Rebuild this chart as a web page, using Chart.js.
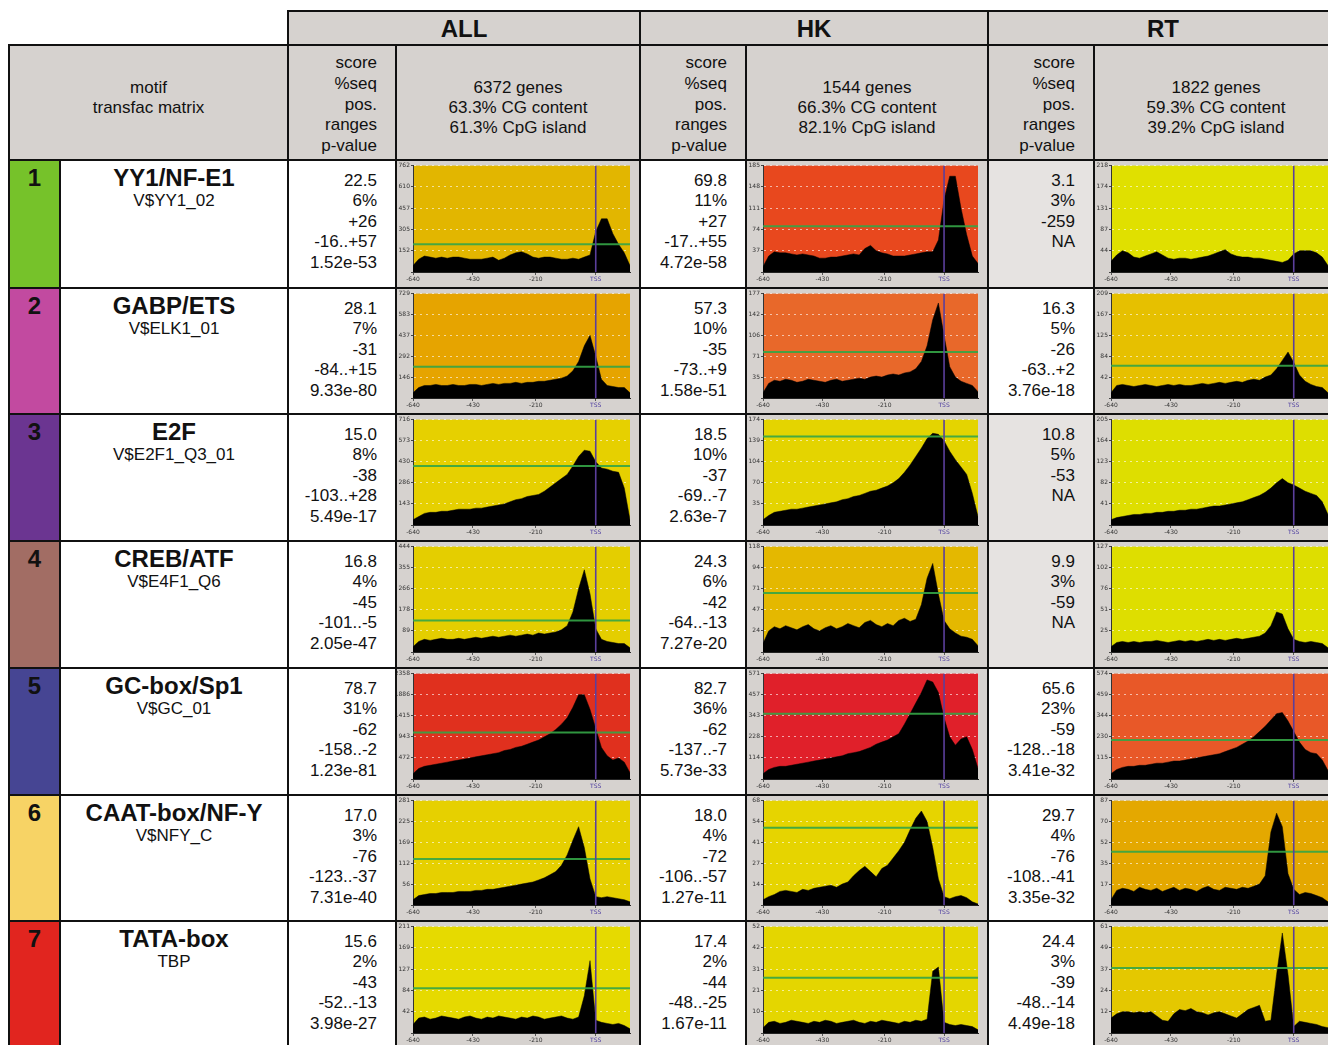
<!DOCTYPE html>
<html>
<head>
<meta charset="utf-8">
<script src="https://cdn.jsdelivr.net/npm/chart.js@4.4.1/dist/chart.umd.min.js"></script>
<style>
  html, body { margin: 0; padding: 0; background: #fff; overflow: hidden; }
  body { width: 1328px; height: 1045px; position: relative; font-family: "Liberation Sans", Arial, sans-serif; color: #111; }
  .cell { position: absolute; box-sizing: border-box; border: 2px solid #111; overflow: hidden; }
  .grey { background: #d6d2cf; }
  .white { background: #fff; }
  .na { background: #e6e3e1; }
  .group { display: flex; align-items: center; justify-content: center; font-weight: bold; font-size: 24px; padding-top: 2px; }
  .stats { text-align: right; font-size: 17px; line-height: 20.4px; padding: 10px 18px 0 0; }
  .statsHead { text-align: right; font-size: 17px; line-height: 20.8px; padding: 7px 18px 0 0; }
  .center3 { text-align: center; font-size: 17px; line-height: 20px; padding-top: 32px; }
  .num { text-align: center; font-weight: bold; font-size: 24px; line-height: 26px; padding-top: 4px; }
  .motif { text-align: center; padding-top: 4px; }
  .motif b { display: block; font-size: 24px; line-height: 26px; }
  .motif span { display: block; font-size: 17px; line-height: 20px; }
  canvas { position: absolute; left: 0; top: 0; }
</style>
</head>
<body>
<script>
// x positions (bp relative to TSS) of every profile sample
const positions = [-640,-620,-600,-580,-560,-540,-520,-500,-480,-460,-440,-420,-400,-380,-360,-340,-320,-300,-280,-260,
                   -240,-220,-200,-180,-160,-140,-120,-100,-80,-60,-40,-20,0,20,40,60,80,100,120];
const xTicks = [-640, -430, -210, 0];

const groupNames = ['ALL', 'HK', 'RT'];
const geneCounts = ['6372', '1544', '1822'];
const cgContent = ['63.3%', '66.3%', '59.3%'];
const cpgIsland = ['61.3%', '82.1%', '39.2%'];

const motifNames = ['YY1/NF-E1', 'GABP/ETS', 'E2F', 'CREB/ATF', 'GC-box/Sp1', 'CAAT-box/NF-Y', 'TATA-box'];
const matrixIds = ['V$YY1_02', 'V$ELK1_01', 'V$E2F1_Q3_01', 'V$E4F1_Q6', 'V$GC_01', 'V$NFY_C', 'TBP'];

// stats per group
const scoreALL = ['22.5', '28.1', '15.0', '16.8', '78.7', '17.0', '15.6'];
const seqALL = ['6%', '7%', '8%', '4%', '31%', '3%', '2%'];
const posALL = ['+26', '-31', '-38', '-45', '-62', '-76', '-43'];
const rangeALL = ['-16..+57', '-84..+15', '-103..+28', '-101..-5', '-158..-2', '-123..-37', '-52..-13'];
const pvalALL = ['1.52e-53', '9.33e-80', '5.49e-17', '2.05e-47', '1.23e-81', '7.31e-40', '3.98e-27'];

const scoreHK = ['69.8', '57.3', '18.5', '24.3', '82.7', '18.0', '17.4'];
const seqHK = ['11%', '10%', '10%', '6%', '36%', '4%', '2%'];
const posHK = ['+27', '-35', '-37', '-42', '-62', '-72', '-44'];
const rangeHK = ['-17..+55', '-73..+9', '-69..-7', '-64..-13', '-137..-7', '-106..-57', '-48..-25'];
const pvalHK = ['4.72e-58', '1.58e-51', '2.63e-7', '7.27e-20', '5.73e-33', '1.27e-11', '1.67e-11'];

const scoreRT = ['3.1', '16.3', '10.8', '9.9', '65.6', '29.7', '24.4'];
const seqRT = ['3%', '5%', '5%', '3%', '23%', '4%', '3%'];
const posRT = ['-259', '-26', '-53', '-59', '-59', '-76', '-39'];
const rangeRT = [null, '-63..+2', null, null, '-128..-18', '-108..-41', '-48..-14'];
const pvalRT = ['NA', '3.76e-18', 'NA', 'NA', '3.41e-32', '3.35e-32', '4.49e-18'];

// profiles, in % of each plot's y range
const curvesALL = [
  [6,12,15,14,13,14,13,14,14,13, 12,12,12,13,14,11,13,16,18,19, 17,14,13,14,14,13,12,12,13,12, 14,16,38,50,50,36,26,18,6],
  [5,10,12,12,13,12,12,13,12,12, 13,13,12,13,14,13,14,14,15,14, 15,15,16,16,17,18,19,21,26,35, 50,60,40,18,12,11,10,10,5],
  [5,8,11,12,12,13,13,14,15,15, 15,16,16,17,18,19,20,22,24,25, 27,28,29,32,36,40,44,48,56,65, 71,70,60,54,53,51,50,35,5],
  [5,10,12,11,12,13,12,12,13,12, 13,14,13,14,15,14,15,16,15,16, 17,16,18,17,18,19,21,25,38,60, 78,55,22,12,10,9,8,8,4],
  [5,10,12,13,14,15,16,17,18,19, 20,21,22,23,24,25,27,28,30,31, 33,35,37,40,43,47,52,58,68,80, 80,66,48,30,22,18,20,16,6],
  [5,9,10,11,11,12,12,12,13,13, 13,14,14,15,15,16,17,18,19,20, 21,22,24,26,29,32,38,48,62,75, 55,25,8,7,8,7,6,5,3],
  [8,14,15,13,14,16,15,14,13,15, 16,14,13,15,14,16,15,14,13,15, 14,16,15,13,14,15,16,14,13,15, 35,68,12,10,9,8,9,7,4]
];
const curvesHK = [
  [5,15,19,18,18,17,16,17,16,15, 13,13,14,14,15,16,17,16,22,25, 20,18,17,15,15,15,16,17,18,19, 19,30,68,90,90,60,35,15,8],
  [5,14,17,16,18,17,15,16,18,17, 16,15,17,18,16,17,18,19,18,20, 21,20,22,23,22,24,25,28,35,50, 75,91,60,30,20,16,14,12,6],
  [5,9,12,13,14,15,15,16,17,18, 19,20,21,22,24,25,27,28,30,32, 33,35,37,40,44,50,57,65,73,82, 87,86,80,70,62,55,48,30,8],
  [8,20,24,22,25,23,21,24,26,22, 20,23,25,22,24,27,25,23,28,30, 26,24,27,25,30,32,29,31,45,70, 84,55,30,22,18,15,14,12,6],
  [5,9,11,12,12,13,14,15,16,17, 18,19,20,21,22,24,25,26,28,30, 33,35,37,40,43,52,62,72,82,94, 92,82,58,40,32,38,40,28,10],
  [5,8,10,13,14,13,12,15,14,16, 17,18,19,17,20,22,28,33,37,32, 27,35,38,45,52,60,72,83,90,80, 55,25,8,6,8,9,7,3,1],
  [5,10,11,9,10,12,11,10,9,11, 10,12,11,9,10,11,12,10,9,11, 10,12,11,10,9,11,10,12,11,13, 58,62,10,8,7,8,7,6,3]
];
const curvesRT = [
  [10,16,20,18,14,13,15,17,19,16, 13,12,13,13,12,13,14,15,17,19, 21,17,15,14,14,13,13,12,11,10, 9,11,17,20,20,20,18,14,6],
  [5,12,13,12,11,12,13,12,11,12, 13,12,13,12,12,13,14,13,14,15, 14,15,16,15,17,18,17,20,22,28, 36,44,34,22,16,13,11,10,5],
  [5,7,8,9,10,10,11,11,12,12, 13,13,14,14,15,15,16,17,18,18, 19,20,21,22,24,26,28,31,35,40, 44,40,38,35,32,30,28,22,10],
  [5,9,10,9,10,9,10,10,11,10, 9,10,11,10,11,10,11,12,11,12, 11,12,13,12,13,14,15,18,25,38, 36,22,12,10,9,10,9,8,4],
  [5,9,11,12,12,13,13,14,15,15, 16,17,17,18,19,20,21,22,23,24, 26,28,30,33,36,40,45,50,56,62, 63,55,45,35,28,25,24,18,8],
  [5,14,16,15,13,17,15,14,16,13, 15,17,14,16,15,13,16,18,15,14, 17,16,15,17,16,18,20,28,70,88, 75,30,15,10,12,11,9,7,3],
  [14,18,20,20,19,20,19,20,16,12, 11,18,22,21,23,20,19,17,19,20, 18,16,14,18,22,24,26,11,12,55, 94,55,6,11,10,9,8,6,5]
];

// top tick value of each plot and the threshold (green) level in %
const yMaxALL = [762, 729, 716, 444, 2358, 281, 211];
const yMaxHK = [185, 177, 174, 118, 571, 68, 52];
const yMaxRT = [218, 209, 205, 127, 574, 87, 61];
const threshALL = [26, 30, 56, 30, 44, 44, 42];
const threshHK = [43, 44, 84, 56, 62, 74, 52];
const threshRT = [null, 31, null, null, 37, 51, 61];

// styles
const rowColors = ['#76c22a', '#c24aa0', '#6b3591', '#a26d64', '#464593', '#f7d365', '#e1251f'];
const bgALL = ['#e2b600', '#e6a400', '#e6d000', '#e4ce00', '#e0301e', '#e6d000', '#e6da00'];
const bgHK = ['#e8481e', '#e8682a', '#e4d400', '#e4b800', '#e0202a', '#e6d400', '#e4d600'];
const bgRT = ['#e0e000', '#e6c000', '#dede00', '#dede00', '#e85828', '#e4a800', '#e4c800'];

const xs = [9, 60, 288, 396, 640, 746, 988, 1094, 1338];
const rowYs = [160, 288, 414, 541, 668, 795, 921, 1049];

const groups = [
  { curves: curvesALL, yMax: yMaxALL, thresh: threshALL, bg: bgALL, score: scoreALL, seq: seqALL, pos: posALL, range: rangeALL, pval: pvalALL },
  { curves: curvesHK, yMax: yMaxHK, thresh: threshHK, bg: bgHK, score: scoreHK, seq: seqHK, pos: posHK, range: rangeHK, pval: pvalHK },
  { curves: curvesRT, yMax: yMaxRT, thresh: threshRT, bg: bgRT, score: scoreRT, seq: seqRT, pos: posRT, range: rangeRT, pval: pvalRT }
];

const addCell = (x0, y0, x1, y1, cls, html) => {
  const d = document.createElement('div');
  d.className = 'cell ' + cls;
  d.style.left = (x0 - 1) + 'px';
  d.style.top = (y0 - 1) + 'px';
  d.style.width = (x1 - x0 + 2) + 'px';
  d.style.height = (y1 - y0 + 2) + 'px';
  if (html) d.innerHTML = html;
  document.body.appendChild(d);
  return d;
};

const plotBg = {
  id: 'plotBg',
  beforeDraw(chart, args, opts) {
    const { ctx, chartArea: a } = chart;
    ctx.save();
    ctx.fillStyle = opts.color;
    ctx.fillRect(a.left, a.top, a.right - a.left, a.bottom - a.top);
    ctx.restore();
  }
};

const drawProfile = (cell, w, h, values, yMax, level, bg) => {
  const canvas = document.createElement('canvas');
  canvas.width = w;
  canvas.height = h;
  cell.appendChild(canvas);

  const datasets = [{
    data: positions.map((x, i) => ({ x: x, y: values[i] })),
    backgroundColor: '#000', borderColor: '#000', borderWidth: 0.5,
    fill: 'origin', pointRadius: 0, tension: 0, order: 3
  }];
  if (level !== null) {
    datasets.push({
      data: [{ x: -640, y: level }, { x: 120, y: level }],
      borderColor: 'rgba(52,165,70,0.9)', borderWidth: 2, pointRadius: 0, fill: false, order: 2
    });
  }
  datasets.push({
    data: [{ x: 0, y: 0 }, { x: 0, y: 100 }],
    borderColor: '#5b3f9c', borderWidth: 1.6, pointRadius: 0, fill: false, order: 1
  });

  new Chart(canvas, {
    type: 'line',
    data: { datasets: datasets },
    options: {
      responsive: false,
      animation: false,
      events: [],
      layout: { padding: { left: 0, right: 9, top: 3, bottom: 0 } },
      plugins: { legend: { display: false }, tooltip: { enabled: false }, plotBg: { color: bg } },
      scales: {
        x: {
          type: 'linear', min: -640, max: 120,
          afterFit: s => { s.height = 15; },
          afterBuildTicks: s => { s.ticks = xTicks.map(v => ({ value: v })); },
          grid: { drawOnChartArea: false, tickLength: 3, color: '#555' },
          border: { display: true, color: '#222', width: 1 },
          ticks: {
            font: { size: 6, family: 'DejaVu Sans' }, padding: 1, maxRotation: 0, autoSkip: false,
            color: c => (c.tick && c.tick.value === 0) ? '#4a3aa0' : '#333',
            callback: v => v === 0 ? 'TSS' : v
          }
        },
        y: {
          min: 0, max: 100,
          afterFit: s => { s.width = 16; },
          ticks: {
            stepSize: 20, font: { size: 6, family: 'DejaVu Sans' }, color: '#333', padding: 1,
            callback: v => v === 0 ? '' : Math.round(v * yMax / 100)
          },
          grid: { color: 'rgba(255,255,255,0.6)', lineWidth: 1, tickLength: 2, tickColor: '#444' },
          border: { display: true, color: '#333', width: 1, dash: [2, 4] }
        }
      }
    },
    plugins: [plotBg]
  });
};

// top header row
groupNames.forEach((g, gi) => {
  addCell(xs[2 + gi * 2], 11, xs[4 + gi * 2], 45, 'grey group', g);
});

// second header row
addCell(xs[0], 45, xs[2], 160, 'grey center3', 'motif<br>transfac matrix');
groupNames.forEach((g, gi) => {
  addCell(xs[2 + gi * 2], 45, xs[3 + gi * 2], 160, 'grey statsHead', 'score<br>%seq<br>pos.<br>ranges<br>p-value');
  addCell(xs[3 + gi * 2], 45, xs[4 + gi * 2], 160, 'grey center3',
    geneCounts[gi] + ' genes<br>' + cgContent[gi] + ' CG content<br>' + cpgIsland[gi] + ' CpG island');
});

// data rows
motifNames.forEach((name, r) => {
  const y0 = rowYs[r], y1 = rowYs[r + 1];
  const numCell = addCell(xs[0], y0, xs[1], y1, 'num', String(r + 1));
  numCell.style.background = rowColors[r];
  addCell(xs[1], y0, xs[2], y1, 'white motif', '<b>' + name + '</b><span>' + matrixIds[r] + '</span>');

  groups.forEach((g, gi) => {
    const lines = [g.score[r], g.seq[r], g.pos[r]];
    if (g.range[r] !== null) lines.push(g.range[r]);
    lines.push(g.pval[r]);
    const cls = g.pval[r] === 'NA' ? 'na stats' : 'white stats';
    addCell(xs[2 + gi * 2], y0, xs[3 + gi * 2], y1, cls, lines.join('<br>'));

    const x0 = xs[3 + gi * 2], x1 = xs[4 + gi * 2];
    const cell = addCell(x0, y0, x1, y1, 'grey');
    drawProfile(cell, x1 - x0 - 2, y1 - y0 - 2, g.curves[r], g.yMax[r], g.thresh[r], g.bg[r]);
  });
});
</script>
</body>
</html>
